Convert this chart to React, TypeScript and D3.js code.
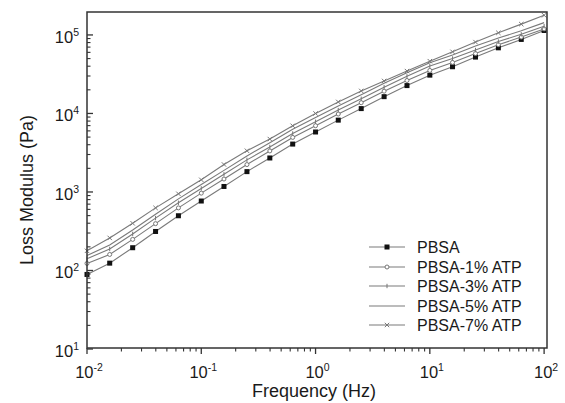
import React from "react";
import * as d3 from "d3";

const freq = [0.01, 0.0158, 0.0251, 0.0398, 0.0631, 0.1, 0.158, 0.251, 0.398, 0.631, 1, 1.58, 2.51, 3.98, 6.31, 10, 15.8, 25.1, 39.8, 63.1, 100];

const pbsa = [89, 124, 195, 314, 498, 767, 1175, 1816, 2710, 4074, 5808, 8222, 11535, 16368, 22650, 30760, 39360, 52240, 68550, 87700, 114000];
const atp1 = [123, 160, 249, 395, 627, 966, 1462, 2234, 3334, 4955, 6982, 9840, 13710, 19230, 26300, 35320, 44670, 57940, 75160, 93970, 119400];
const atp3 = [141, 188, 292, 465, 728, 1109, 1679, 2564, 3741, 5559, 7834, 11040, 15380, 21580, 29720, 40180, 50120, 64270, 82410, 101900, 129400];
const atp5 = [155, 211, 328, 521, 817, 1245, 1884, 2877, 4246, 6310, 8872, 12450, 17260, 24210, 33110, 44360, 55590, 72110, 91410, 113000, 143500];
const atp7 = [178, 260, 399, 627, 948, 1429, 2239, 3350, 4721, 6966, 10000, 14030, 19360, 25940, 34670, 46340, 60950, 81100, 106400, 137400, 178200];

const seriesNames = ["PBSA", "PBSA-1% ATP", "PBSA-3% ATP", "PBSA-5% ATP", "PBSA-7% ATP"];
const seriesValues = [pbsa, atp1, atp3, atp5, atp7];
const markerTypes = ["square", "circle", "tick", "none", "cross"];

const xTickExps = [-2, -1, 0, 1, 2];
const yTickExps = [1, 2, 3, 4, 5];

const W = 565, H = 403;
const L = 87, R = 547, T = 12, B = 348;
const LINE = "#7a7a7a";
const AX = "#333";
const FONT = "'Liberation Sans', Arial, sans-serif";

const x = d3.scaleLog().domain([0.01, 106]).range([L, R]);
const y = d3.scaleLog().domain([10, 196000]).range([B + 1, T]);

function Marker({ type, cx, cy }: { type: string; cx: number; cy: number }) {
  if (type === "square") return <rect x={cx - 2.5} y={cy - 2.5} width={5} height={5} fill="#111" />;
  if (type === "circle") return <circle cx={cx} cy={cy} r={2} fill="#fff" stroke="#777" strokeWidth={1} />;
  if (type === "tick") return <line x1={cx} x2={cx} y1={cy - 2.2} y2={cy + 2.2} stroke="#777" strokeWidth={1} />;
  if (type === "cross")
    return (
      <g stroke="#777" strokeWidth={1}>
        <line x1={cx - 2.2} x2={cx + 2.2} y1={cy - 2.2} y2={cy + 2.2} />
        <line x1={cx - 2.2} x2={cx + 2.2} y1={cy + 2.2} y2={cy - 2.2} />
      </g>
    );
  return null;
}

export default function App() {
  const line = d3
    .line<number>()
    .x((_, i) => x(freq[i]))
    .y((v) => y(v));

  const xMinor: number[] = [];
  for (let e = -2; e < 2; e++) for (let m = 2; m <= 9; m++) xMinor.push(m * Math.pow(10, e));
  const yMinor: number[] = [];
  for (let e = 1; e < 5; e++) for (let m = 2; m <= 9; m++) yMinor.push(m * Math.pow(10, e));
  for (let m = 2; m <= 9; m++) if (m * 1e5 < 196000) yMinor.push(m * 1e5);

  const legendY = [247, 267, 286, 306, 325];

  return (
    <svg width={W} height={H} style={{ position: "absolute", left: 0, top: 0, background: "#fff" }} fontFamily={FONT}>
      <rect x={0} y={0} width={W} height={H} fill="#fff" />
      {seriesValues.map((vals, si) => (
        <g key={si}>
          <path d={line(vals) || ""} fill="none" stroke={LINE} strokeWidth={1.1} />
          {vals.map((v, i) => (
            <Marker key={i} type={markerTypes[si]} cx={x(freq[i])} cy={y(v)} />
          ))}
        </g>
      ))}
      <rect x={L} y={T} width={R - L} height={B - T} fill="none" stroke={AX} strokeWidth={1.5} />
      {xTickExps.map((e) => (
        <line key={e} x1={x(Math.pow(10, e))} x2={x(Math.pow(10, e))} y1={B} y2={B + 6} stroke={AX} strokeWidth={1.3} />
      ))}
      {xMinor.map((v, i) => (
        <line key={i} x1={x(v)} x2={x(v)} y1={B} y2={B + 3.5} stroke={AX} strokeWidth={1.1} />
      ))}
      {yTickExps.map((e) => (
        <line key={e} x1={L} x2={L + 6} y1={y(Math.pow(10, e))} y2={y(Math.pow(10, e))} stroke={AX} strokeWidth={1.3} />
      ))}
      {yMinor.map((v, i) => (
        <line key={i} x1={L} x2={L + 3.5} y1={y(v)} y2={y(v)} stroke={AX} strokeWidth={1.1} />
      ))}
      {xTickExps.map((e) => (
        <text key={e} x={x(Math.pow(10, e)) + 2} y={378} textAnchor="middle" fontSize={16.5} fill="#1a1a1a">
          <tspan>10</tspan>
          <tspan dy={-7} fontSize={10.5}>{e}</tspan>
        </text>
      ))}
      {yTickExps.map((e) => (
        <text key={e} x={79} y={y(Math.pow(10, e)) + 8} textAnchor="end" fontSize={16.5} fill="#1a1a1a">
          <tspan>10</tspan>
          <tspan dy={-7} fontSize={10.5}>{e}</tspan>
        </text>
      ))}
      <text x={314} y={397} textAnchor="middle" fontSize={18} fill="#1a1a1a">
        Frequency (Hz)
      </text>
      <text transform={`translate(33,190) rotate(-90)`} textAnchor="middle" fontSize={18} fill="#1a1a1a">
        Loss Modulus (Pa)
      </text>
      {seriesNames.map((n, i) => (
        <g key={n}>
          <line x1={369} x2={405} y1={legendY[i]} y2={legendY[i]} stroke={LINE} strokeWidth={1.1} />
          <Marker type={markerTypes[i]} cx={387} cy={legendY[i]} />
          <text x={417} y={legendY[i]} dominantBaseline="central" fontSize={16} fill="#1a1a1a">
            {n}
          </text>
        </g>
      ))}
    </svg>
  );
}
